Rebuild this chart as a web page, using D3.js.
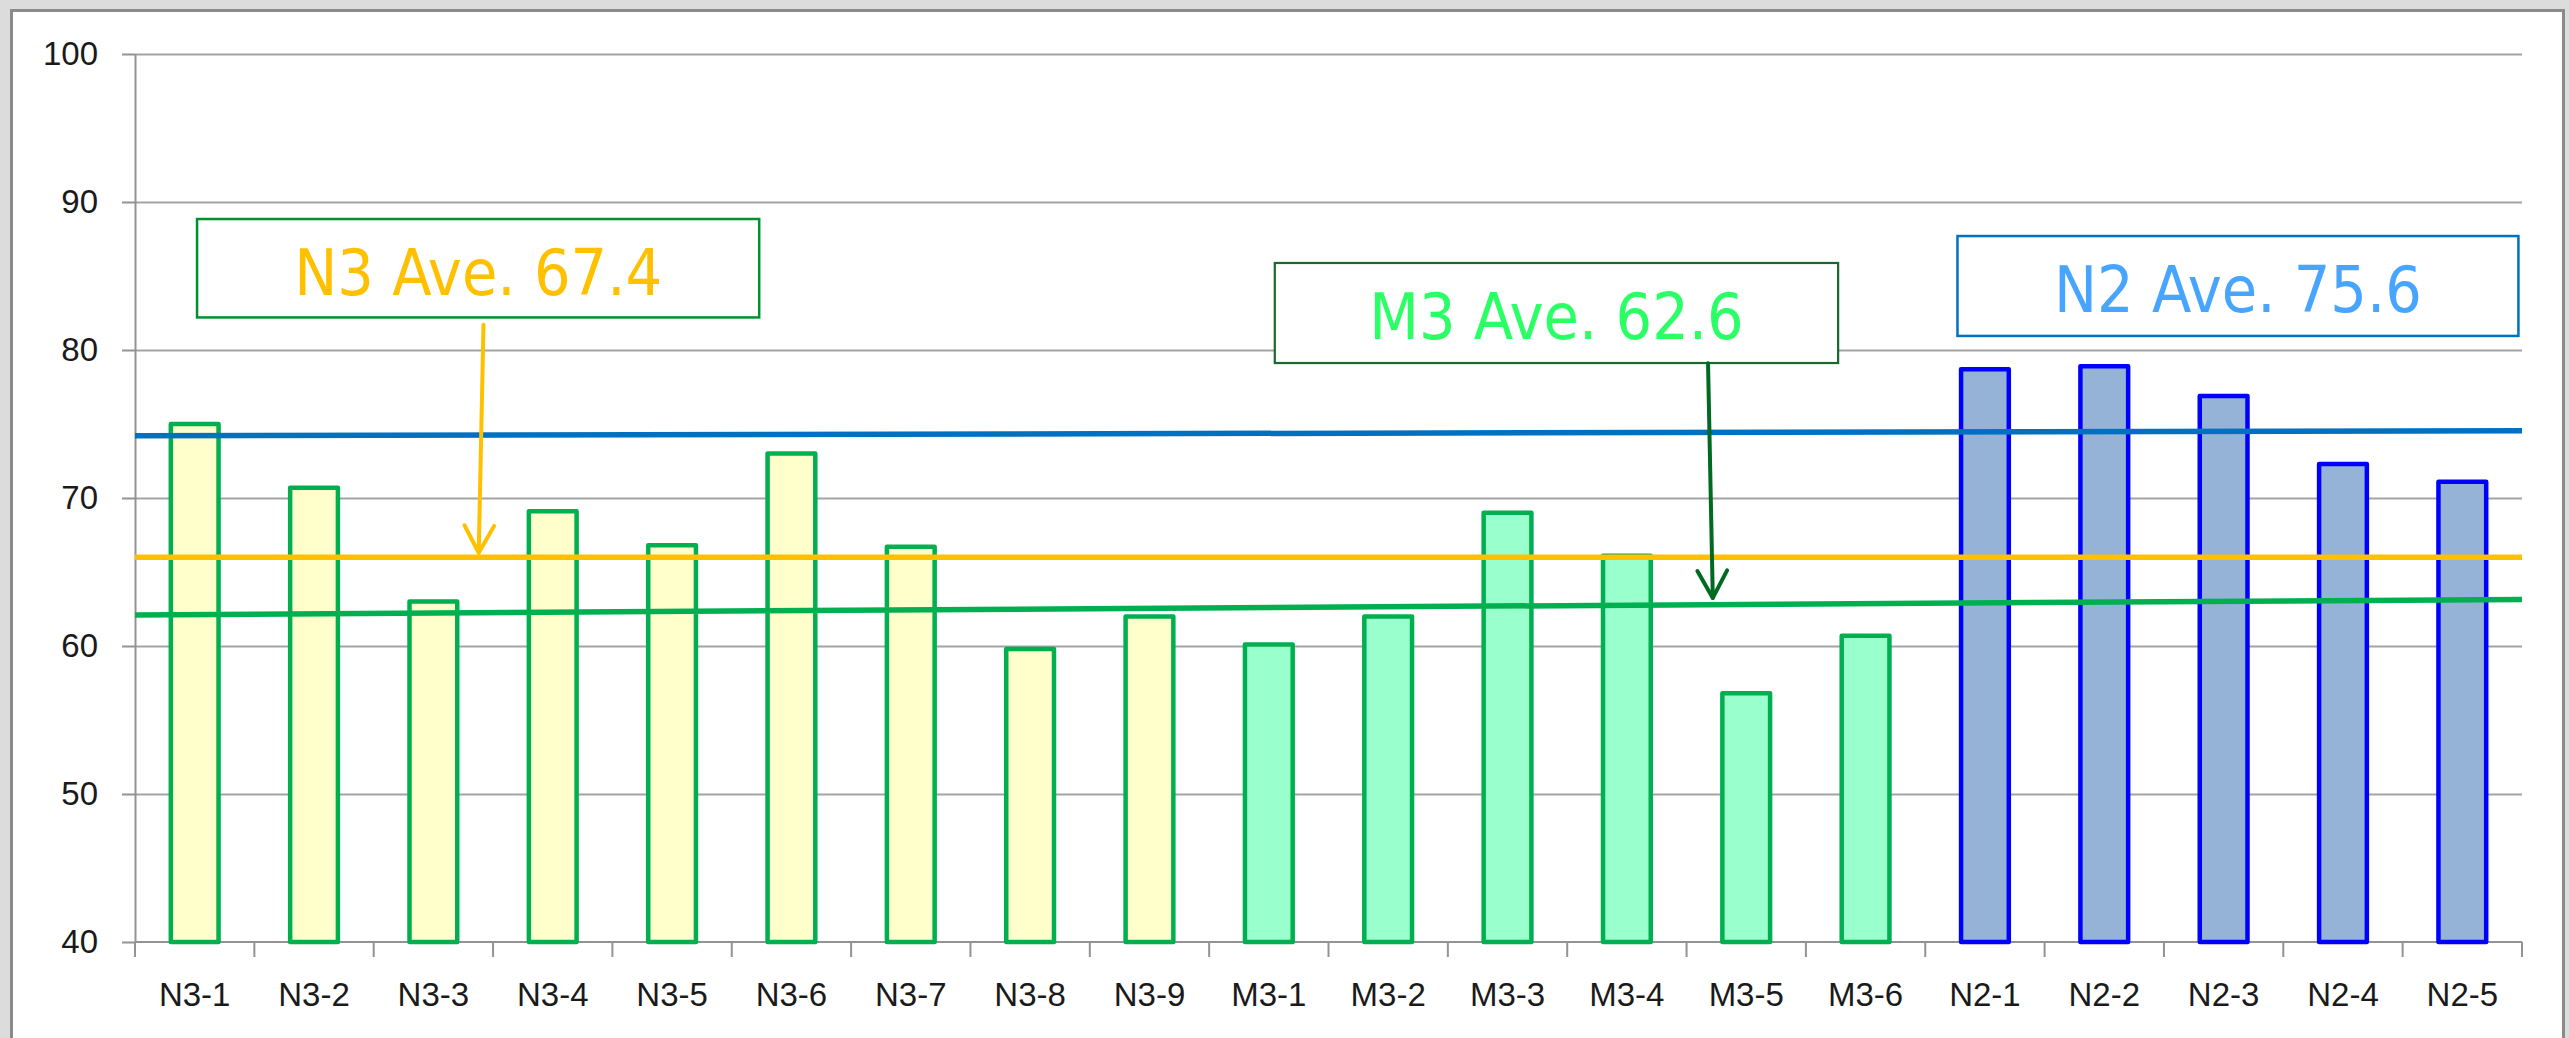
<!DOCTYPE html>
<html>
<head>
<meta charset="utf-8">
<script src="https://cdn.jsdelivr.net/npm/d3@7"></script>
<style>
  body { margin: 0; background: #dcdcdc; overflow: hidden; }
  svg { display: block; }
</style>
</head>
<body>
<div id="chart"></div>
<script>
// Categories, their group and the score for each one
const categories = ["N3-1", "N3-2", "N3-3", "N3-4", "N3-5", "N3-6", "N3-7", "N3-8", "N3-9",
    "M3-1", "M3-2", "M3-3", "M3-4", "M3-5", "M3-6",
    "N2-1", "N2-2", "N2-3", "N2-4", "N2-5"];
const groups = ["N3", "N3", "N3", "N3", "N3", "N3", "N3", "N3", "N3",
    "M3", "M3", "M3", "M3", "M3", "M3",
    "N2", "N2", "N2", "N2", "N2"];
const scores = [75.0, 70.7, 63.0, 69.1, 66.8, 73.0, 66.7, 59.8, 62.0,
    60.1, 62.0, 69.0, 66.1, 56.8, 60.7,
    78.7, 78.9, 76.9, 72.3, 71.1];
const yTicks = [40, 50, 60, 70, 80, 90, 100];

// Average lines: value at the left edge and at the right edge of the plot
const lineGroups = ["N2", "N3", "M3"];
const lineStart = [74.2, 66.0, 62.1];
const lineEnd = [74.55, 66.0, 63.15];

// Callout labels
const calloutGroups = ["N3", "M3", "N2"];
const calloutText = ["N3 Ave. 67.4", "M3 Ave. 62.6", "N2 Ave. 75.6"];

// Set the dimensions of the graph
const W = 2569, H = 1038;
const plot = { left: 135, right: 2522, top: 54, bottom: 942 };

const fills = { N3: "#ffffcc", M3: "#99ffcc", N2: "#95b3d7" };
const strokes = { N3: "#00b050", M3: "#00b050", N2: "#0000ff" };
const lineColors = { N2: "#0070c0", N3: "#ffc000", M3: "#00b050" };

// callout layout, in category units (x) and score units (y)
const calloutLayout = {
    N3: { x0: 0.52, x1: 5.23, top: 88.85, bottom: 82.2, box: "#00912f", boxW: 2.5, text: "#ffc000",
          arrow: { color: "#ffc000", from: [2.92, 81.7], to: [2.88, 66.3] } },
    M3: { x0: 9.55, x1: 14.27, top: 85.88, bottom: 79.12, box: "#17692c", boxW: 2.2, text: "#2bff66",
          arrow: { color: "#006a22", from: [13.18, 79.1], to: [13.22, 63.25] } },
    N2: { x0: 15.27, x1: 19.97, top: 87.7, bottom: 80.95, box: "#0070c0", boxW: 2.5, text: "#48a5ff" }
};

const svg = d3.select("#chart")
    .append("svg")
    .attr("width", W)
    .attr("height", H);

// chart area with its grey border
svg.append("rect")
    .attr("x", 11.5)
    .attr("y", 10.5)
    .attr("width", 2552)
    .attr("height", 1100)
    .attr("fill", "#ffffff")
    .attr("stroke", "#8a8a8a")
    .attr("stroke-width", 3);

const x = d3.scaleBand()
    .domain(categories)
    .range([plot.left, plot.right])
    .padding(0);

// continuous position in category units, used for the callouts
const xc = d3.scaleLinear()
    .domain([0, categories.length])
    .range([plot.left, plot.right]);

const y = d3.scaleLinear()
    .domain([40, 100])
    .range([plot.bottom, plot.top]);

// gridlines
svg.append("g")
    .attr("transform", `translate(${plot.left},0)`)
    .call(d3.axisLeft(y).tickValues(yTicks.slice(1)).tickSize(-(plot.right - plot.left)).tickFormat(""))
    .call(g => g.select(".domain").remove())
    .call(g => g.selectAll("line").attr("stroke", "#a3a3a3").attr("stroke-width", 2));

// Y axis
svg.append("g")
    .attr("transform", `translate(${plot.left},0)`)
    .call(d3.axisLeft(y).tickValues(yTicks).tickSize(13).tickPadding(24).tickSizeOuter(0))
    .call(g => g.select(".domain").attr("stroke", "#939393").attr("stroke-width", 2))
    .call(g => g.selectAll("line").attr("stroke", "#939393").attr("stroke-width", 2))
    .call(g => g.selectAll("text")
        .attr("font-family", "'Liberation Sans', Arial, sans-serif")
        .attr("font-size", 33)
        .attr("fill", "#1a1a1a"));

// X axis line and ticks at the band edges
const xAxis = svg.append("g");
xAxis.append("line")
    .attr("x1", plot.left).attr("x2", plot.right)
    .attr("y1", plot.bottom).attr("y2", plot.bottom)
    .attr("stroke", "#939393").attr("stroke-width", 2);
xAxis.selectAll("line.tick")
    .data(d3.range(categories.length + 1))
    .enter()
    .append("line")
    .attr("class", "tick")
    .attr("x1", i => xc(i)).attr("x2", i => xc(i))
    .attr("y1", plot.bottom).attr("y2", plot.bottom + 15)
    .attr("stroke", "#939393").attr("stroke-width", 2);

svg.append("g")
    .attr("transform", `translate(0,${plot.bottom})`)
    .call(d3.axisBottom(x).tickSize(0).tickPadding(41))
    .call(g => g.select(".domain").remove())
    .call(g => g.selectAll("text")
        .attr("font-family", "'Liberation Sans', Arial, sans-serif")
        .attr("font-size", 33)
        .attr("fill", "#1a1a1a"));

// bars
const barW = x.bandwidth() * 0.4;
svg.append("g")
    .selectAll("rect")
    .data(categories)
    .enter()
    .append("rect")
    .attr("x", d => x(d) + (x.bandwidth() - barW) / 2)
    .attr("y", (d, i) => y(scores[i]))
    .attr("width", barW)
    .attr("height", (d, i) => y(40) - y(scores[i]))
    .attr("fill", (d, i) => fills[groups[i]])
    .attr("stroke", (d, i) => strokes[groups[i]])
    .attr("stroke-width", 4.5)
    .attr("stroke-linejoin", "round");

// average lines
svg.append("g")
    .selectAll("line")
    .data(lineGroups)
    .enter()
    .append("line")
    .attr("x1", plot.left)
    .attr("x2", plot.right)
    .attr("y1", (d, i) => y(lineStart[i]))
    .attr("y2", (d, i) => y(lineEnd[i]))
    .attr("stroke", d => lineColors[d])
    .attr("stroke-width", 5.5);

// callouts
calloutGroups.forEach((grp, i) => {
    const c = calloutLayout[grp];
    const bx0 = xc(c.x0), bx1 = xc(c.x1), by0 = y(c.top), by1 = y(c.bottom);
    svg.append("rect")
        .attr("x", bx0).attr("y", by0)
        .attr("width", bx1 - bx0).attr("height", by1 - by0)
        .attr("fill", "#ffffff")
        .attr("stroke", c.box)
        .attr("stroke-width", c.boxW);
    const fs = 64;
    svg.append("text")
        .attr("x", (bx0 + bx1) / 2)
        .attr("y", (by0 + by1) / 2 + fs * 0.365 + 3)
        .attr("text-anchor", "middle")
        .attr("font-family", "'DejaVu Sans Condensed', 'DejaVu Sans', sans-serif")
        .attr("font-stretch", "condensed")
        .attr("font-size", fs)
        .attr("fill", c.text)
        .text(calloutText[i]);

    if (c.arrow) {
        const a = c.arrow;
        const fx = xc(a.from[0]), fy = y(a.from[1]);
        const tx = xc(a.to[0]), ty = y(a.to[1]);
        const ang = Math.atan2(ty - fy, tx - fx);
        const len = 31, spread = 0.5;
        const g = svg.append("g")
            .attr("stroke", a.color)
            .attr("stroke-width", 4)
            .attr("fill", "none")
            .attr("stroke-linecap", "round")
            .attr("stroke-linejoin", "round");
        g.append("line").attr("x1", fx).attr("y1", fy).attr("x2", tx).attr("y2", ty);
        g.append("path")
            .attr("d", d3.line()([
                [tx - len * Math.cos(ang - spread), ty - len * Math.sin(ang - spread)],
                [tx, ty],
                [tx - len * Math.cos(ang + spread), ty - len * Math.sin(ang + spread)]
            ]));
    }
});
</script>
</body>
</html>
